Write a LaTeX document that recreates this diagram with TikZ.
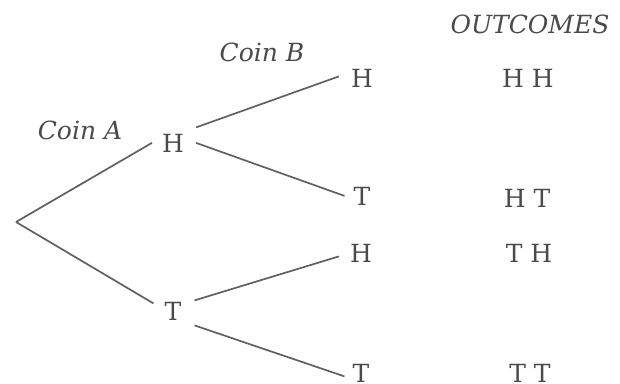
\documentclass[tikz,border=0pt]{standalone}
\usepackage{fontspec}
\setmainfont{DejaVu Serif}
\definecolor{txtgray}{HTML}{4A4A4A}
\definecolor{linegray}{HTML}{606060}
\begin{document}
\begin{tikzpicture}[x=1pt,y=-1pt,
  lbl/.style={anchor=base,inner sep=0pt,text=txtgray,font=\fontsize{25}{30}\selectfont},
  ilbl/.style={lbl,font=\fontsize{25}{30}\selectfont\itshape},
  branch/.style={draw=linegray,line width=1.7pt}]
\useasboundingbox (0,0) rectangle (620,383);
\coordinate (root) at (16,222);
\node[ilbl] (coinA) at (80,139) {Coin A};
\node[ilbl] (coinB) at (262,61) {Coin B};
\node[ilbl] (outc) at (530,33) {OUTCOMES};
\node[lbl] (hA) at (173,152) {H};
\node[lbl] (tA) at (173,320) {T};
\node[lbl] (hh) at (362,87) {H};
\node[lbl] (ht) at (362,205) {T};
\node[lbl] (th) at (361,262) {H};
\node[lbl] (tt) at (361,382) {T};
\node[lbl] (o1) at (528,87) {H H};
\node[lbl] (o2) at (527,207) {H T};
\node[lbl] (o3) at (529,262) {T H};
\node[lbl] (o4) at (530,382) {T T};
\draw[branch] (root) -- ([xshift=-10pt]hA.west);
\draw[branch] (root) -- ([xshift=-11pt,yshift=7.5pt]tA.west);
\draw[branch] ([xshift=12pt,yshift=15.5pt]hA.east) -- ([xshift=-12pt,yshift=1.5pt]hh.west);
\draw[branch] ([xshift=12pt]hA.east) -- ([xshift=-9pt]ht.west);
\draw[branch] ([xshift=13pt,yshift=10.5pt]tA.east) -- ([xshift=-11pt,yshift=-3.5pt]th.west);
\draw[branch] ([xshift=13pt,yshift=-14.5pt]tA.east) -- ([xshift=-8pt,yshift=-3.5pt]tt.west);
\end{tikzpicture}
\end{document}
